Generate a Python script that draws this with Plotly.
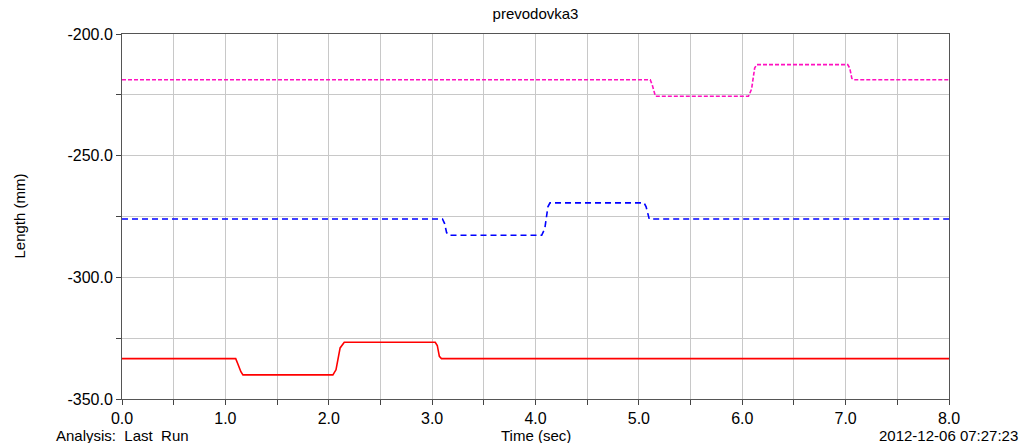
import plotly.graph_objects as go

# Time (sec) and Length (mm) values
red_t = [0.0, 1.10, 1.12, 1.15, 1.17, 2.04, 2.07, 2.11, 2.15, 3.03, 3.05, 3.07, 3.09, 8.0]
red_y = [-333.4, -333.4, -335.5, -338.8, -340.1, -340.1, -338.0, -329.0, -326.7, -326.7, -328.0, -332.5, -333.4, -333.4]

blue_t = [0.0, 3.10, 3.12, 3.14, 3.16, 4.06, 4.09, 4.12, 4.14, 5.05, 5.07, 5.09, 5.10, 8.0]
blue_y = [-276.0, -276.0, -277.8, -281.6, -282.7, -282.7, -280.0, -271.0, -269.4, -269.4, -271.0, -275.4, -276.0, -276.0]

mag_t = [0.0, 5.11, 5.13, 5.15, 5.16, 6.06, 6.09, 6.12, 6.14, 7.02, 7.04, 7.06, 7.08, 8.0]
mag_y = [-218.8, -218.8, -221.0, -225.0, -225.6, -225.6, -222.7, -214.0, -212.6, -212.6, -214.0, -218.2, -218.8, -218.8]

x_ticks = [0, 1, 2, 3, 4, 5, 6, 7, 8]
y_ticks = [-350, -300, -250, -200]

fig = go.Figure()
fig.add_trace(go.Scatter(x=red_t, y=red_y, mode="lines",
                         line=dict(color="#ff0000", width=1.6)))
fig.add_trace(go.Scatter(x=blue_t, y=blue_y, mode="lines",
                         line=dict(color="#0000ff", width=1.6, dash="6px,4px")))
fig.add_trace(go.Scatter(x=mag_t, y=mag_y, mode="lines",
                         line=dict(color="#ff10c0", width=1.6, dash="4px,2px")))

font = "Liberation Sans, Arial, sans-serif"
fig.update_layout(
    width=1022, height=443,
    margin=dict(l=122, r=73, t=34, b=44),
    paper_bgcolor="white", plot_bgcolor="white",
    showlegend=False,
    font=dict(family=font, size=15, color="black"),
    title=dict(text="prevodovka3", x=(122 + 949) / 2 / 1022, xanchor="center",
               y=1 - 14 / 443, yanchor="middle", font=dict(size=15, family=font)),
    xaxis=dict(range=[0, 8], tickvals=x_ticks, ticktext=[f"{v:.1f}" for v in x_ticks],
               showgrid=True, gridcolor="#c8c8c8", gridwidth=1,
               minor=dict(dtick=0.5, showgrid=True, gridcolor="#c8c8c8", ticks="outside",
                          ticklen=5, tickcolor="#444"),
               ticks="outside", ticklen=5, tickcolor="#444",
               showline=True, linecolor="#555", linewidth=1, mirror=True,
               zeroline=False, tickfont=dict(size=16)),
    yaxis=dict(range=[-350, -200], tickvals=y_ticks, ticktext=[f"{v:.1f}" for v in y_ticks],
               showgrid=True, gridcolor="#c8c8c8", gridwidth=1,
               minor=dict(dtick=25, showgrid=True, gridcolor="#c8c8c8", ticks="outside",
                          ticklen=5, tickcolor="#444"),
               ticks="outside", ticklen=5, tickcolor="#444",
               showline=True, linecolor="#555", linewidth=1, mirror=True,
               zeroline=False, tickfont=dict(size=16)),
)

fig.add_annotation(text="Length (mm)", xref="paper", yref="paper",
                   x=(19 - 122) / 827, y=0.5, xanchor="center", yanchor="middle",
                   textangle=-90, showarrow=False, font=dict(size=15))
fig.add_annotation(text="Time (sec)", xref="paper", yref="paper",
                   x=0.5, y=-37 / 365, xanchor="center", yanchor="middle",
                   showarrow=False, font=dict(size=15))
fig.add_annotation(text="Analysis:  Last  Run", xref="paper", yref="paper",
                   x=-(122 - 54) / 827, y=-37 / 365, xanchor="left", yanchor="middle",
                   showarrow=False, font=dict(size=15))
fig.add_annotation(text="2012-12-06 07:27:23", xref="paper", yref="paper",
                   x=(1020 - 122) / 827, y=-37 / 365, xanchor="right", yanchor="middle",
                   showarrow=False, font=dict(size=15))

fig.write_html("out.html")
